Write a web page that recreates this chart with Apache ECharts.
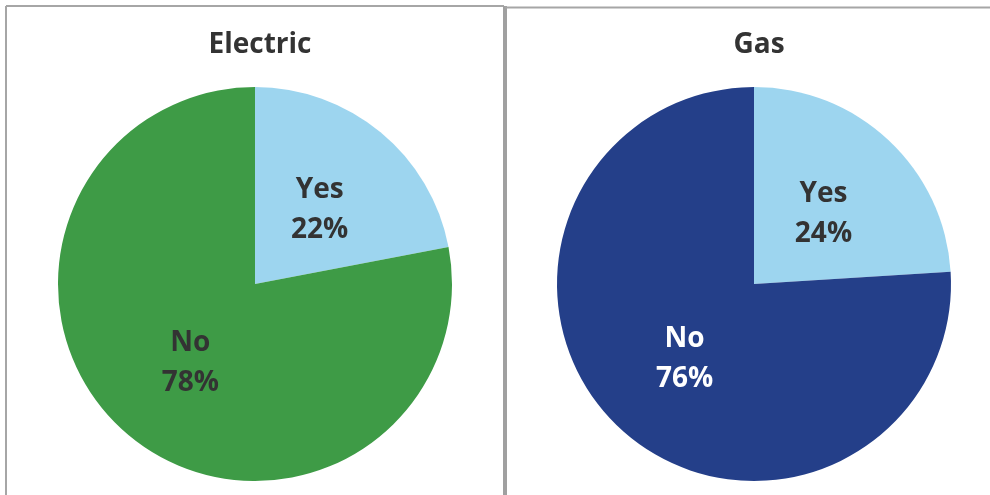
<!DOCTYPE html>
<html>
<head>
<meta charset="utf-8">
<script src="https://cdn.jsdelivr.net/npm/echarts@6/dist/echarts.min.js"></script>
<style>
html,body{margin:0;padding:0;background:#fff;}
#c{width:990px;height:495px;}
</style>
</head>
<body>
<div id="c"></div>
<script>
const titles = ['Electric', 'Gas'];
const categories = ['Yes', 'No'];
const electricValues = [22, 78];
const gasValues = [24, 76];
const electricColors = ['#9DD5EF', '#3E9B46'];
const gasColors = ['#9DD5EF', '#243F89'];
const electricLabelColors = ['#333333', '#333333'];
const gasLabelColors = ['#333333', '#ffffff'];
const labelOffsets = [[0, 4], [0, 1]];

const chart = echarts.init(document.getElementById('c'));
const font = '"Open Sans", "Liberation Sans", sans-serif';

function makeData(vals, cols, lcols) {
  return categories.map((c, i) => ({
    name: c, value: vals[i],
    itemStyle: { color: cols[i] },
    label: { color: lcols[i], offset: labelOffsets[i] }
  }));
}

function pieSeries(cx, vals, cols, lcols) {
  return {
    type: 'pie',
    center: [cx, 284],
    radius: [0, 197],
    startAngle: 90,
    clockwise: true,
    silent: true,
    animation: false,
    itemStyle: { borderWidth: 0 },
    label: {
      show: true,
      position: 'inside',
      formatter: '{b}\n{c}%',
      color: '#333333',
      fontFamily: font,
      fontWeight: 'bold',
      fontSize: 28,
      lineHeight: 40
    },
    labelLine: { show: false },
    emphasis: { disabled: true },
    data: makeData(vals, cols, lcols)
  };
}

chart.setOption({
  backgroundColor: '#ffffff',
  animation: false,
  title: [
    { text: titles[0], left: 255, top: 26, textAlign: 'center',
      textStyle: { fontFamily: font, fontWeight: 'bold', fontSize: 28, color: '#333333' } },
    { text: titles[1], left: 754, top: 26, textAlign: 'center',
      textStyle: { fontFamily: font, fontWeight: 'bold', fontSize: 28, color: '#333333' } }
  ],
  graphic: [
    { type: 'line', shape: { x1: 6, y1: 6, x2: 504, y2: 6 }, style: { stroke: '#a6a6a6', lineWidth: 2 } },
    { type: 'line', shape: { x1: 6, y1: 6, x2: 6, y2: 495 }, style: { stroke: '#a6a6a6', lineWidth: 2 } },
    { type: 'rect', shape: { x: 503, y: 6, width: 4, height: 489 }, style: { fill: '#a0a0a0' } },
    { type: 'line', shape: { x1: 505, y1: 7.5, x2: 990, y2: 7.5 }, style: { stroke: '#a6a6a6', lineWidth: 2 } }
  ],
  series: [
    pieSeries(255, electricValues, electricColors, electricLabelColors),
    pieSeries(754, gasValues, gasColors, gasLabelColors)
  ]
});
</script>
</body>
</html>
